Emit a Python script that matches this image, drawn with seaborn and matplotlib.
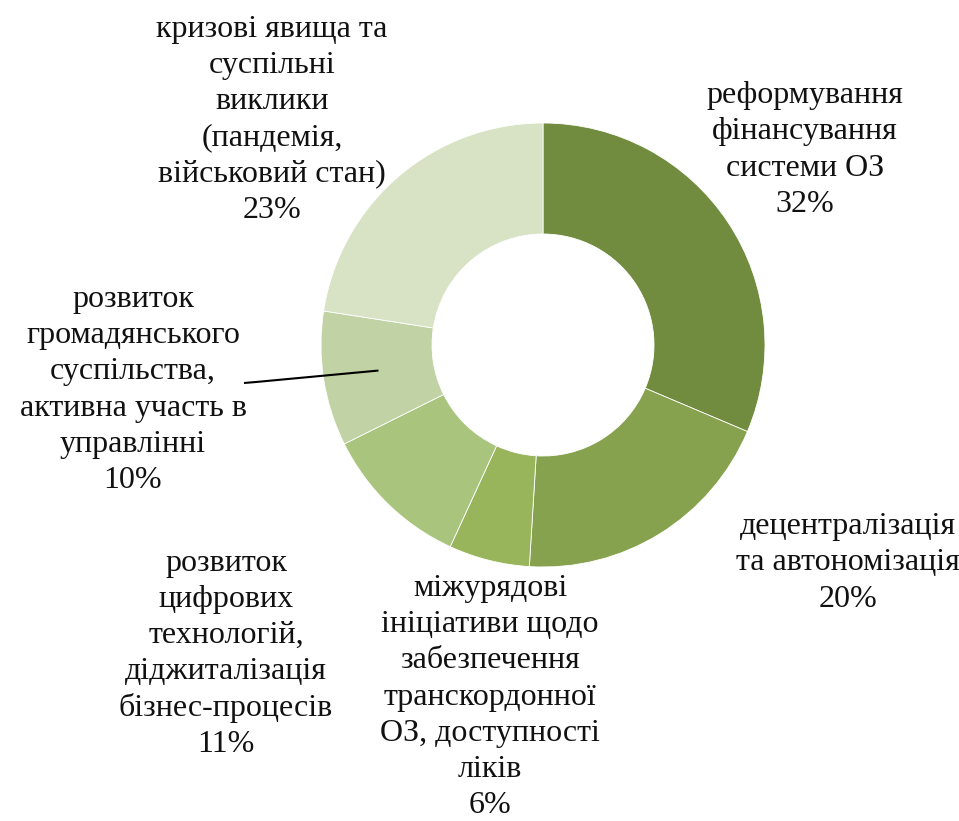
import numpy as np
import matplotlib
matplotlib.use("Agg")
import matplotlib.pyplot as plt
import seaborn as sns

# Factors and their shares (percent)
categories = [
    "реформування\nфінансування\nсистеми ОЗ",
    "децентралізація\nта автономізація",
    "міжурядові\nініціативи щодо\nзабезпечення\nтранскордонної\nОЗ, доступності\nліків",
    "розвиток\nцифрових\nтехнологій,\nдіджиталізація\nбізнес-процесів",
    "розвиток\nгромадянського\nсуспільства,\nактивна участь в\nуправлінні",
    "кризові явища та\nсуспільні\nвиклики\n(пандемія,\nвійськовий стан)",
]
shares = [32, 20, 6, 11, 10, 23]
colors = ["#718B3F", "#86A24E", "#98B55C", "#A9C47D", "#C1D3A4", "#D8E2C5"]

sns.set_theme(style="white")
plt.rcParams["font.family"] = ["Liberation Serif", "DejaVu Serif"]

W, H = 959, 821
fig = plt.figure(figsize=(W / 100, H / 100), dpi=100)
ax = fig.add_axes([0, 0, 1, 1])

# pie geometry in pixels
cx, cy, R = 543, 345, 222

wedges, _ = ax.pie(
    shares, colors=colors, startangle=90, counterclock=False,
    radius=1.0, wedgeprops=dict(width=0.5, edgecolor="white", linewidth=0.6),
)
ax.set_aspect("equal")
ax.set_xlim(-cx / R, (W - cx) / R)
ax.set_ylim(-(H - cy) / R, cy / R)
ax.axis("off")


def to_data(px, py):
    return (px - cx) / R, (cy - py) / R


# label block centres (pixels)
label_pos = [(805, 150), (848, 563), (490, 697), (226, 654), (133, 390), (272, 120)]
for name, val, (px, py) in zip(categories, shares, label_pos):
    x, y = to_data(px, py)
    ax.text(x, y, f"{name}\n{val}%", ha="center", va="center",
            fontsize=23, linespacing=1.32, color="#111111")

# leader line for the civil-society slice
w = wedges[4]
mid = np.deg2rad((w.theta1 + w.theta2) / 2)
tip = (0.75 * np.cos(mid), 0.75 * np.sin(mid))
x0, y0 = to_data(244, 383)
x1, y1 = to_data(256, 382)
ax.plot([x0, x1, tip[0]], [y0, y1, tip[1]], color="black", lw=1.5,
        solid_capstyle="butt")

fig.savefig("out.png", dpi=100, facecolor="white")
